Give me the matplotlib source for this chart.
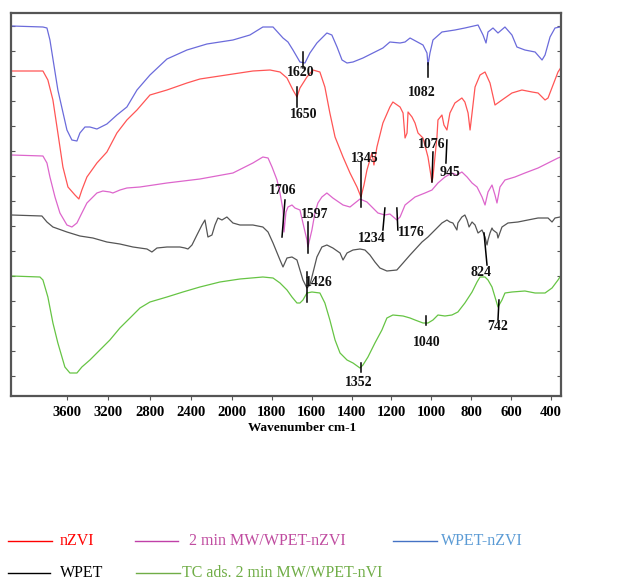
import numpy as np
import matplotlib
matplotlib.use("Agg")
import matplotlib.pyplot as plt
from matplotlib.lines import Line2D

plt.rcParams['font.family'] = ['Liberation Serif', 'DejaVu Serif']

# FTIR spectra, wavenumber (cm-1) vs. offset transmittance (arbitrary units)
blue_wn = [4140, 3835, 3796, 3767, 3690, 3602, 3554, 3505, 3476, 3427,
           3379, 3311, 3214, 3117, 3020, 2922, 2796, 2631, 2437, 2243,
           1995, 1910, 1845, 1794, 1744, 1719, 1694, 1659, 1634, 1609,
           1574, 1524, 1499, 1473, 1448, 1423, 1393, 1343, 1293, 1243,
           1208, 1157, 1132, 1107, 1042, 1022, 1017, 1007, 992, 947,
           882, 832, 766, 741, 726, 716, 691, 666, 631, 596,
           571, 531, 480, 445, 430, 405, 380, 355]
blue_t = [374, 373, 372, 360, 310, 270, 260, 259, 267, 273,
          273, 271, 276, 285, 293, 310, 325, 341, 350, 356,
          360, 365, 373, 373, 362, 358, 350, 338, 337, 347,
          357, 367, 365, 353, 340, 337, 338, 342, 347, 352,
          358, 357, 358, 362, 355, 347, 335, 347, 360, 368,
          370, 372, 375, 365, 357, 368, 372, 367, 373, 365,
          353, 350, 348, 340, 345, 363, 372, 373]

red_wn = [4140, 3835, 3787, 3738, 3690, 3641, 3592, 3524, 3486, 3457,
          3408, 3311, 3214, 3117, 3020, 2922, 2796, 2631, 2437, 2311,
          1995, 1895, 1809, 1759, 1724, 1694, 1674, 1659, 1624, 1594,
          1559, 1534, 1509, 1483, 1443, 1408, 1373, 1353, 1338, 1323,
          1298, 1288, 1273, 1243, 1208, 1193, 1157, 1142, 1132, 1122,
          1117, 1097, 1082, 1067, 1042, 1017, 997, 992, 972, 967,
          947, 937, 922, 907, 882, 847, 832, 816, 806, 796,
          781, 756, 731, 706, 681, 646, 596, 546, 495, 465,
          430, 415, 390, 365, 352]
red_t = [329, 329, 320, 300, 267, 233, 213, 205, 201, 210,
         223, 237, 248, 267, 280, 290, 305, 310, 317, 321,
         326, 329, 330, 328, 322, 310, 303, 312, 323, 330,
         328, 313, 287, 263, 243, 227, 213, 203, 215, 230,
         247, 235, 253, 277, 293, 298, 293, 287, 262, 267,
         288, 283, 277, 267, 262, 243, 218, 223, 263, 280,
         285, 275, 270, 287, 297, 302, 298, 287, 270, 287,
         313, 325, 328, 317, 295, 300, 307, 310, 308, 307,
         300, 302, 315, 328, 332]

magenta_wn = [4140, 3835, 3796, 3767, 3718, 3670, 3602, 3554, 3505, 3457,
              3408, 3311, 3253, 3185, 3156, 3087, 3020, 2893, 2631, 2311,
              1995, 1895, 1845, 1819, 1799, 1774, 1759, 1744, 1739, 1729,
              1719, 1699, 1684, 1659, 1644, 1624, 1619, 1599, 1584, 1569,
              1549, 1524, 1494, 1443, 1408, 1358, 1323, 1293, 1268, 1233,
              1208, 1173, 1157, 1132, 1082, 1032, 997, 967, 932, 897,
              872, 847, 821, 796, 771, 746, 731, 716, 696, 681,
              671, 656, 631, 581, 531, 465, 415, 365, 352]
magenta_t = [245, 244, 237, 223, 203, 187, 175, 173, 177, 187,
             197, 207, 209, 208, 207, 210, 212, 213, 217, 221,
             227, 237, 243, 242, 233, 220, 207, 190, 168, 188,
             193, 195, 192, 190, 177, 160, 153, 170, 187, 197,
             203, 207, 202, 195, 193, 201, 198, 192, 187, 185,
             186, 180, 183, 195, 203, 207, 210, 217, 223, 227,
             225, 228, 223, 217, 213, 203, 195, 208, 215, 205,
             197, 213, 220, 223, 227, 232, 237, 242, 243]

black_wn = [4140, 3845, 3796, 3738, 3602, 3476, 3350, 3214, 3088, 2961,
            2825, 2777, 2728, 2631, 2505, 2456, 2427, 2388, 2340, 2291,
            2262, 2233, 2194, 2165, 2136, 2097, 2049, 1995, 1960, 1895,
            1845, 1819, 1794, 1759, 1744, 1724, 1699, 1674, 1659, 1644,
            1624, 1609, 1594, 1574, 1549, 1524, 1494, 1458, 1443, 1423,
            1393, 1358, 1333, 1308, 1283, 1258, 1223, 1173, 1142, 1107,
            1047, 1017, 982, 947, 922, 907, 892, 872, 867, 847,
            832, 821, 811, 796, 781, 766, 746, 731, 721, 716,
            706, 696, 691, 671, 666, 646, 616, 566, 516, 465,
            415, 395, 380, 355]
black_t = [185, 184, 178, 173, 168, 164, 162, 158, 156, 153,
           151, 148, 152, 153, 153, 152, 151, 155, 165, 175,
           180, 163, 165, 175, 182, 180, 183, 177, 175, 175,
           173, 168, 157, 140, 133, 142, 143, 140, 130, 120,
           112, 115, 127, 143, 153, 155, 152, 147, 140, 147,
           150, 151, 150, 145, 138, 132, 129, 130, 137, 145,
           158, 163, 170, 177, 180, 178, 177, 170, 177, 183,
           185, 180, 173, 178, 175, 167, 170, 163, 155, 160,
           167, 172, 170, 167, 162, 173, 177, 178, 180, 182,
           182, 178, 182, 183]

green_wn = [4140, 3864, 3835, 3787, 3738, 3690, 3622, 3573, 3505, 3457,
            3379, 3282, 3185, 3088, 2990, 2893, 2796, 2631, 2476, 2311,
            2117, 1960, 1845, 1794, 1759, 1724, 1699, 1674, 1659, 1644,
            1624, 1599, 1559, 1534, 1509, 1483, 1458, 1423, 1393, 1358,
            1343, 1318, 1283, 1248, 1223, 1193, 1142, 1107, 1082, 1042,
            1017, 992, 967, 932, 897, 867, 832, 796, 771, 756,
            731, 716, 696, 681, 666, 646, 631, 596, 531, 480,
            430, 395, 365, 352]
green_t = [124, 123, 120, 103, 77, 57, 33, 27, 27, 33,
           40, 50, 60, 72, 82, 92, 98, 103, 108, 113,
           118, 121, 123, 122, 117, 110, 103, 97, 97, 100,
           107, 108, 107, 97, 80, 60, 47, 40, 37, 32,
           35, 43, 57, 70, 82, 85, 84, 82, 80, 77,
           77, 80, 85, 84, 85, 88, 97, 108, 118, 123,
           123, 120, 113, 103, 93, 100, 107, 108, 109, 107,
           107, 112, 120, 124]

xtick_vals = [3600, 3200, 2800, 2400, 2000, 1800, 1600, 1400, 1200, 1000, 800, 600, 400]

# peak label, marker line (x0, y0, x1, y1), text position
peak_labels = [
    ("1620", 1644, 348, 1644, 332, 1654, 328),
    ("1650", 1674, 313, 1674, 293, 1639, 286),
    ("1082", 1017, 337, 1017, 323, 1047, 307),
    ("1345", 1353, 238, 1353, 193, 1333, 242),
    ("1076", 992, 248, 997, 218, 997, 255),
    ("945", 922, 260, 927, 237, 907, 228),
    ("1706", 1734, 200, 1749, 163, 1744, 209),
    ("1597", 1619, 178, 1619, 147, 1584, 186),
    ("1234", 1233, 192, 1243, 170, 1298, 161),
    ("1176", 1173, 192, 1168, 170, 1102, 167),
    ("1426", 1624, 128, 1624, 98, 1564, 118),
    ("824", 736, 167, 721, 135, 751, 128),
    ("1352", 1353, 37, 1353, 28, 1363, 18),
    ("1040", 1027, 84, 1027, 75, 1022, 58),
    ("742", 661, 100, 666, 80, 666, 73),
]

R = 0.5165


def fwd(w):
    w = np.asarray(w, dtype=float)
    return np.where(w > 2000, 2000 + (w - 2000) * R, w)


def inv(u):
    u = np.asarray(u, dtype=float)
    return np.where(u > 2000, 2000 + (u - 2000) / R, u)


fig = plt.figure(figsize=(6.35, 5.81), dpi=100)
ax = fig.add_axes([11 / 635, 185 / 581, 550 / 635, 383 / 581])
ax.set_xscale('function', functions=(fwd, inv))

series = [
    (blue_wn, blue_t, '#6b6bdb'),
    (red_wn, red_t, '#ff5555'),
    (magenta_wn, magenta_t, '#dd66cc'),
    (black_wn, black_t, '#555555'),
    (green_wn, green_t, '#66c444'),
]
for wn, t, c in series:
    ax.plot(wn, t, color=c, lw=0.9)

for lab, x0, y0, x1, y1, tx, ty in peak_labels:
    ax.plot([x0, x1], [y0, y1], color='black', lw=1.1)
    ax.text(tx, ty, lab, ha='center', va='center', fontsize=10,
            fontweight='bold', color='#111111')

ax.set_xlim(4145, 350)
ax.set_ylim(4, 387)
ax.set_xticks(xtick_vals)
ax.set_xticklabels([str(v) for v in xtick_vals], fontsize=10.5, fontweight='bold')
ax.set_yticks(np.arange(24, 380, 25))
ax.set_yticklabels([])
ax.tick_params(axis='x', direction='out', length=3, pad=4, color='#555555')
ax.tick_params(axis='y', left=True, right=True, direction='in', length=3, color='#555555')
ax.minorticks_off()
for s in ax.spines.values():
    s.set_color('#555555')
    s.set_linewidth(1.6)

fig.text(302 / 635, 1 - 428 / 581, 'Wavenumber cm-1', ha='center', va='center',
         fontsize=9.5, fontweight='bold')

# legend rows drawn below the plot
legend_items = [
    (8, 52, '#ff0000', 60, 'nZVI', '#ff0000', 541),
    (135, 178, '#c040a8', 189, '2 min MW/WPET-nZVI', '#c04ca0', 541),
    (393, 437, '#4472c4', 441, 'WPET-nZVI', '#5b9bd5', 541),
    (8, 50, '#000000', 60, 'WPET', '#000000', 573),
    (136, 180, '#70ad47', 182, 'TC ads. 2 min MW/WPET-nVI', '#70ad47', 573),
]
for x0, x1, lc, tx, txt, tc, yy in legend_items:
    y = 1 - yy / 581
    fig.add_artist(Line2D([x0 / 635, x1 / 635], [y, y], transform=fig.transFigure,
                          color=lc, lw=1.0))
    fig.text(tx / 635, y, txt, ha='left', va='center', fontsize=11.5, color=tc)

fig.savefig('out.png', dpi=100)
